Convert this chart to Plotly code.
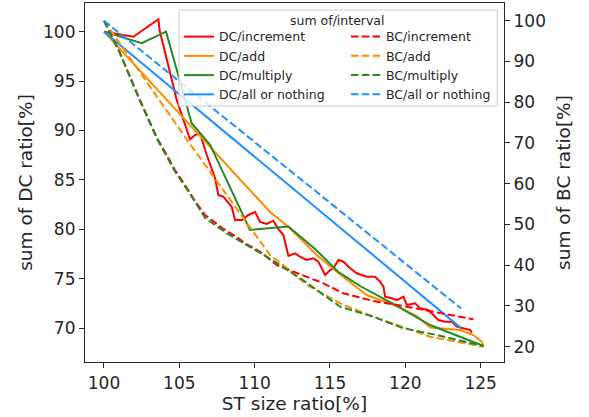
import plotly.graph_objects as go

# ---------------- data ----------------
x_dc_increment = [100.0, 101.28, 101.95, 103.61, 103.69, 104.83, 105.71, 106.04, 106.37, 106.82,
                  107.37, 107.59, 107.92, 108.48, 108.70, 109.16, 109.58, 110.03, 110.36, 110.80,
                  111.24, 111.57, 111.91, 112.24, 112.68, 113.01, 113.46, 113.90, 114.23, 114.68,
                  115.01, 115.23, 115.56, 115.89, 116.33, 116.78, 117.44, 117.99, 118.33, 118.55,
                  118.66, 119.10, 119.44, 119.87, 120.10, 120.65, 120.98, 121.53, 121.87, 122.20,
                  122.64, 123.09, 123.42, 123.97, 124.30, 124.42]
dc_increment = [100.0, 99.67, 99.49, 101.26, 100.17, 93.09, 89.11, 89.54, 89.72, 87.52,
                85.19, 83.47, 83.30, 82.26, 80.94, 80.94, 81.45, 81.75, 80.74, 80.54,
                80.87, 80.03, 79.42, 77.30, 77.57, 77.23, 76.89, 77.06, 76.72, 75.37,
                75.88, 76.05, 76.89, 76.72, 76.05, 75.55, 75.20, 75.20, 74.70, 74.19,
                73.18, 73.02, 72.84, 73.18, 72.34, 72.51, 72.00, 71.83, 71.33, 70.82,
                70.65, 70.65, 70.14, 69.98, 69.81, 69.53]

x_dc_add = [100.0, 110.03, 111.02, 112.24, 114.12, 115.45, 117.44, 119.44, 120.76, 121.65,
            123.64, 124.52, 125.08, 125.19]
dc_add = [100.0, 83.47, 81.75, 80.26, 77.40, 75.71, 73.35, 72.24, 71.22, 70.06,
          69.81, 69.30, 68.62, 68.19]

x_dc_multiply = [100.0, 102.50, 104.12, 105.82, 107.04, 109.69, 112.24, 114.01, 115.56, 117.0,
                 119.32, 121.65, 125.19]
dc_multiply = [100.0, 98.83, 100.0, 90.73, 88.56, 79.93, 80.28, 78.0, 75.68, 74.26,
               72.34, 70.31, 68.19]

x_dc_all_or_nothing = [100.0, 123.7]
dc_all_or_nothing = [100.0, 70.0]

x_bc_increment = [100.0, 101.06, 102.39, 103.52, 104.05, 104.71, 105.38, 106.04, 106.71, 107.84,
                  108.90, 109.36, 110.36, 111.47, 112.80, 114.56, 115.89, 117.88, 120.10, 122.31,
                  124.52]
bc_increment = [100.0, 92.07, 80.54, 71.21, 67.78, 63.36, 59.68, 55.75, 52.32, 49.13,
                46.67, 45.37, 43.31, 40.05, 38.08, 35.56, 33.10, 31.22, 29.82, 28.27,
                26.72]

x_bc_add = [100.0, 105.38, 110.3, 111.02, 111.89, 112.80, 113.68, 115.67, 117.88, 121.65, 125.19]
bc_add = [100.0, 71.46, 46.2, 42.50, 40.05, 37.10, 34.72, 30.65, 27.36, 22.45, 20.0]

x_bc_multiply = [100.0, 101.06, 102.39, 103.52, 104.71, 105.71, 106.71, 108.15, 110.80, 113.01,
                 115.67, 117.88, 119.87, 122.09, 125.19]
bc_multiply = [100.0, 92.0, 80.3, 71.0, 63.0, 57.5, 51.6, 47.83, 42.09, 36.86,
               29.82, 27.36, 24.52, 22.87, 20.17]

x_bc_all_or_nothing = [100.0, 123.7]
bc_all_or_nothing = [100.0, 29.4]

x_ticks = [100, 105, 110, 115, 120, 125]
dc_ticks = [70, 75, 80, 85, 90, 95, 100]
bc_ticks = [20, 30, 40, 50, 60, 70, 80, 90, 100]

legend_title = "sum of/interval"

# ---------------- styling ----------------
RED, ORANGE, GREEN, BLUE = "#ff0000", "#ff8c00", "#228b22", "#1e90ff"
DASH = "7.5px,3.3px"
TXT = "#262626"
FONT = "DejaVu Sans"

series = [
    ("DC/increment", x_dc_increment, dc_increment, RED, "solid", "y", 1),
    ("BC/increment", x_bc_increment, bc_increment, RED, DASH, "y2", 2),
    ("DC/add", x_dc_add, dc_add, ORANGE, "solid", "y", 3),
    ("BC/add", x_bc_add, bc_add, ORANGE, DASH, "y2", 4),
    ("DC/multiply", x_dc_multiply, dc_multiply, GREEN, "solid", "y", 5),
    ("BC/multiply", x_bc_multiply, bc_multiply, GREEN, DASH, "y2", 6),
    ("DC/all or nothing", x_dc_all_or_nothing, dc_all_or_nothing, BLUE, "solid", "y", 7),
    ("BC/all or nothing", x_bc_all_or_nothing, bc_all_or_nothing, BLUE, DASH, "y2", 8),
]

fig = go.Figure()
for name, xs, ys, color, dash, yax, rank in series:
    fig.add_trace(go.Scatter(
        x=xs, y=ys, mode="lines", name=name, yaxis=yax, legendrank=rank,
        line=dict(color=color, width=2, dash=dash),
    ))

axis_common = dict(
    ticks="outside", ticklen=5, tickwidth=1.2, tickcolor=TXT,
    showline=True, linecolor=TXT, linewidth=1.2,
    showgrid=False, zeroline=False, automargin=False,
    tickfont=dict(size=17, color=TXT, family=FONT),
)

fig.update_layout(
    width=589, height=417,
    margin=dict(l=85, r=85, t=3, b=55),
    paper_bgcolor="white", plot_bgcolor="white",
    font=dict(family=FONT, color=TXT),
    xaxis=dict(range=[98.74, 126.55], tickvals=x_ticks, mirror=True,
               title=dict(text="ST size ratio[%]", font=dict(size=18.5, color=TXT), standoff=5),
               **axis_common),
    yaxis=dict(range=[66.57, 102.9], tickvals=dc_ticks,
               title=dict(text="sum of DC ratio[%]", font=dict(size=18.5, color=TXT), standoff=5),
               **axis_common),
    yaxis2=dict(range=[16.25, 104.34], tickvals=bc_ticks, overlaying="y", side="right",
                title=dict(text="sum of BC ratio[%]", font=dict(size=18.5, color=TXT), standoff=12),
                **axis_common),
    legend=dict(
        orientation="h", entrywidth=122, entrywidthmode="pixels",
        x=0.2243, xanchor="left", y=0.9471, yanchor="top",
        bgcolor="rgba(0,0,0,0)", borderwidth=0,
        font=dict(size=12.5, color=TXT, family=FONT),
        itemwidth=30, tracegroupgap=0,
    ),
    showlegend=True,
    shapes=[dict(type="rect", xref="paper", yref="paper",
                 x0=0.2243, x1=0.984, y0=0.7131, y1=0.9805,
                 fillcolor="rgba(255,255,255,0.8)", line=dict(color="#cccccc", width=1),
                 layer="above")],
    annotations=[dict(text=legend_title, xref="paper", yref="paper",
                      x=0.6038, y=0.9526, xanchor="center", yanchor="middle",
                      showarrow=False, font=dict(size=12.5, color=TXT, family=FONT))],
)

fig.write_html("out.html", config={"displayModeBar": False},
               post_script="document.body.style.margin='0';")
